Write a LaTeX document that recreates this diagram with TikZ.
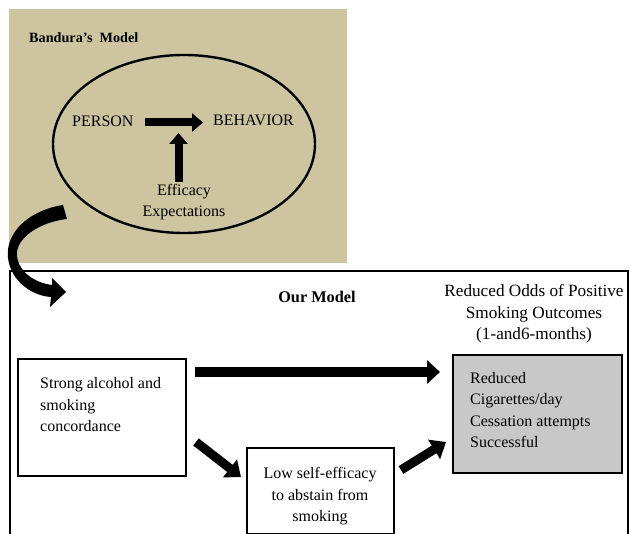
\documentclass[tikz,border=0pt]{standalone}
\usepackage{fontspec}
\setmainfont{Liberation Serif}
\usetikzlibrary{arrows.meta,shapes.geometric}
\definecolor{tanbg}{RGB}{205,197,160}
\definecolor{boxgray}{RGB}{200,200,200}
\begin{document}
\begin{tikzpicture}[x=1pt,y=-1pt,
  txt/.style={font=\fontsize{16}{21.5}\selectfont, inner sep=0pt},
  bigtxt/.style={font=\fontsize{17.2}{21.5}\selectfont, inner sep=0pt},
  ttl/.style={font=\fontsize{#1}{18}\selectfont\bfseries, inner sep=0pt},
  boxn/.style={draw, line width=2pt, inner sep=0pt, anchor=north west},
  fatarrow/.style={line width=#1, -{Triangle[length=13pt,width=23pt]}},
  midarrow/.style={line width=8pt, -{Triangle[length=11pt,width=18pt]}},
  diagarrow/.style={line width=9pt, -{Triangle[length=14pt,width=22pt]}}
]
\useasboundingbox (0,0) rectangle (630,534);

% Bandura's model panel
\fill[tanbg] (9,9) rectangle (347,263);
\node[ttl=14.2, anchor=base west] (bandura) at (29,43) {Bandura’s\ \ Model};
\node[draw, line width=2.4pt, ellipse, minimum width=262pt, minimum height=178pt, inner sep=0pt] (ell) at (184,144) {};
\node[txt, anchor=base west] (person) at (72,127) {PERSON};
\node[txt, anchor=base west] (behavior) at (213,126) {BEHAVIOR};
\node[txt, align=center, anchor=base] (efficacy) at (184,217) {Efficacy\\Expectations};
\coordinate (pa) at (145,122.5);
\coordinate (pb) at (203,122.5);
\coordinate (ea) at (178.5,182);
\coordinate (eb) at (178.5,133);
\draw[midarrow] (pa) -- (pb);
\draw[midarrow] (ea) -- (eb);

% curved arrow
\fill[black] (63,205) .. controls (30,210) and (5,232) .. (8,258)
  .. controls (11,282) and (33,296) .. (51,297)
  -- (50,307) -- (66,292) -- (52,278) -- (52,285)
  .. controls (36,283) and (19,273) .. (17,256)
  .. controls (15,238) and (40,222) .. (67,219) -- cycle;

% Our model frame
\draw[line width=2.2pt] (10,534) -- (10,271) -- (628,271) -- (628,534);
\node[ttl=16.3, anchor=base] (ourmodel) at (317,303) {Our Model};
\node[bigtxt, align=center, anchor=base] (outcomes) at (534,340) {Reduced Odds of Positive\\Smoking Outcomes\\(1-and6-months)};

% gray outcome box
\node[boxn, fill=boxgray, minimum width=169pt, minimum height=118pt] (gray) at (452,354) {};
\node[txt, align=left, anchor=base west] (graytxt) at (470,448) {Reduced\\Cigarettes/day\\Cessation attempts\\Successful};

% strong box
\node[boxn, fill=white, minimum width=168pt, minimum height=117pt] (strong) at (17,358) {};
\node[txt, align=left, anchor=base west] (strongtxt) at (40,432) {Strong alcohol and\\smoking\\concordance};

% low self-efficacy box
\node[boxn, fill=white, minimum width=147pt, minimum height=86pt] (low) at (246,447) {};
\node[txt, align=center, anchor=base] (lowtxt) at (320,522) {Low self-efficacy\\to abstain from\\smoking};

% arrows
\coordinate (ba) at (195,372);
\coordinate (bb) at (440,372);
\draw[fatarrow=10.5pt] (ba) -- (bb);
\coordinate (d1a) at (196,442);
\coordinate (d1b) at (241,477);
\draw[diagarrow] (d1a) -- (d1b);
\coordinate (d2a) at (401,470);
\coordinate (d2b) at (446,442);
\draw[diagarrow] (d2a) -- (d2b);
\end{tikzpicture}
\end{document}
